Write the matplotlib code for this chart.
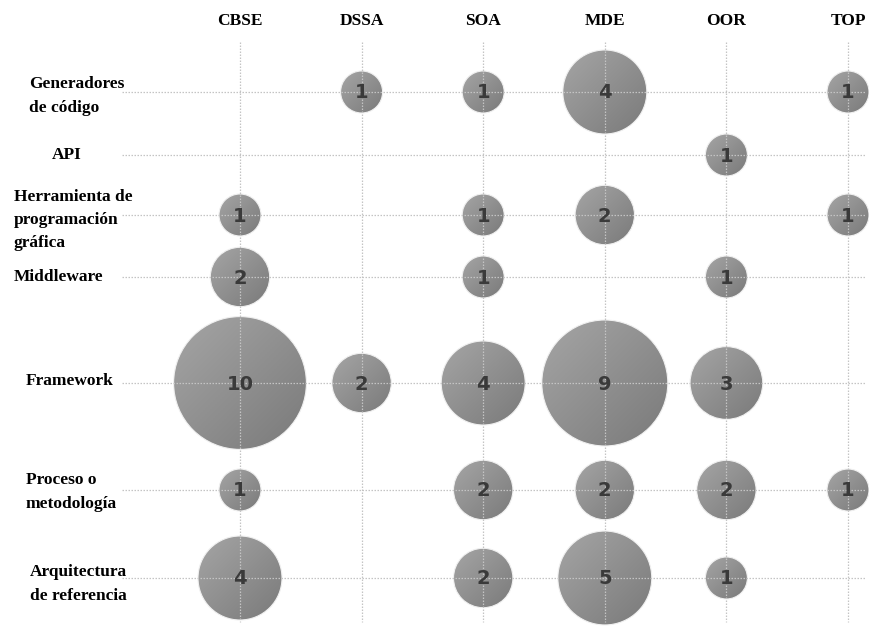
import numpy as np
import matplotlib
matplotlib.use("Agg")
import matplotlib.pyplot as plt
from matplotlib.patches import Circle
from matplotlib.transforms import ScaledTranslation
from matplotlib.colors import LinearSegmentedColormap

# ---- data -------------------------------------------------------------
techniques = ["CBSE", "DSSA", "SOA", "MDE", "OOR", "TOP"]
artifacts = [
    "Generadores\nde código",
    "API",
    "Herramienta de\nprogramación\ngráfica",
    "Middleware",
    "Framework",
    "Proceso o\nmetodología",
    "Arquitectura\nde referencia",
]
# number of studies per (artifact, technique); 0 = no bubble
gen_codigo   = [0, 1, 1, 4, 0, 1]
api          = [0, 0, 0, 0, 1, 0]
herramienta  = [1, 0, 1, 2, 0, 1]
middleware   = [2, 0, 1, 0, 1, 0]
framework    = [10, 2, 4, 9, 3, 0]
proceso      = [1, 0, 2, 2, 2, 1]
arquitectura = [4, 0, 2, 5, 1, 0]
counts = [gen_codigo, api, herramienta, middleware, framework, proceso, arquitectura]

# ---- layout -----------------------------------------------------------
W, H, DPI = 870, 626, 100
col_x0, col_step = 240.0, 121.6          # pixel position of first column and spacing
row_pos = [92, 155, 215, 277, 383, 490, 578]   # row centre lines (px from top)
label_x = [29, 52, 14, 14, 26, 26, 30]          # left edge of each row label (px)
label_dy = [4, 0, 5, 0, -2, 2, 6]               # label centre offset from row line (px)
unit_radius_in = 0.21                            # radius of a bubble of value 1 (inches)

fig = plt.figure(figsize=(W / DPI, H / DPI), dpi=DPI)
ax = fig.add_axes([0, 0, 1, 1])
ax.set_axis_off()

cmap = LinearSegmentedColormap.from_list("bubble", ["#a5a5a5", "#7a7a7a"])
n = 80
xx, yy = np.meshgrid(np.linspace(0, 1, n), np.linspace(0, 1, n))
grad = (xx + yy) / 2.0

cols = np.arange(len(techniques))

for ri, row in enumerate(counts):
    for ci, v in enumerate(row):
        if v <= 0:
            continue
        r = unit_radius_in * np.sqrt(v)
        trans = fig.dpi_scale_trans + ScaledTranslation(cols[ci], row_pos[ri], ax.transData)
        circ = Circle((0, 0), r, transform=trans, facecolor="none",
                      edgecolor="#f0f0f0", lw=0.8, zorder=1.5)
        ax.add_patch(circ)
        im = ax.imshow(grad, cmap=cmap, vmin=0, vmax=1, extent=(-r, r, -r, r),
                       transform=trans, origin="upper", interpolation="bilinear",
                       zorder=1)
        im.set_clip_path(circ)
        ax.text(cols[ci], row_pos[ri] + 1, str(v), ha="center", va="center",
                fontsize=14, fontweight="bold", color="#3a3a3a",
                family="DejaVu Sans", zorder=3)

# dotted grid drawn over the bubbles
grid_kw = dict(colors="#c4c4c4", linewidth=0.9, linestyles=(0, (1.2, 1.2)), zorder=2)
ax.vlines(cols, 42, 622, **grid_kw)
h_start = (122 - col_x0) / col_step
h_end = (865 - col_x0) / col_step
ax.hlines(row_pos, h_start, h_end, **grid_kw)

# column headers
for ci, name in enumerate(techniques):
    ax.text(cols[ci], 21, name, ha="center", va="center", fontsize=12.5,
            fontweight="bold", family="Liberation Serif", color="black")

# row labels
for ri, name in enumerate(artifacts):
    fig.text(label_x[ri] / W, 1 - (row_pos[ri] + label_dy[ri]) / H, name,
             ha="left", va="center", fontsize=12.5, fontweight="bold",
             family="Liberation Serif", color="black", linespacing=1.6)

ax.set_aspect("auto")
ax.set_xlim(-col_x0 / col_step, (W - col_x0) / col_step)
ax.set_ylim(H, 0)

fig.savefig("out.png", dpi=DPI, facecolor="white")
